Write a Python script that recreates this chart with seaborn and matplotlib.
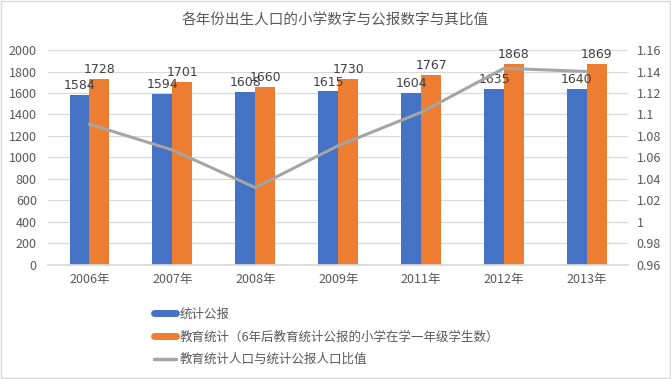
import matplotlib
matplotlib.use('Agg')
import matplotlib.pyplot as plt
import seaborn as sns
import pandas as pd
import numpy as np
from matplotlib.patches import Rectangle
from matplotlib.lines import Line2D

years = ['2006年', '2007年', '2008年', '2009年', '2011年', '2012年', '2013年']
gongbao = [1584, 1594, 1608, 1615, 1604, 1635, 1640]
jiaoyu = [1728, 1701, 1660, 1730, 1767, 1868, 1869]
ratio = [1.091, 1.067, 1.032, 1.071, 1.102, 1.143, 1.140]

name_a = '统计公报'
name_b = '教育统计（6年后教育统计公报的小学在学一年级学生数）'
name_c = '教育统计人口与统计公报人口比值'

sns.set_theme(style='white')
plt.rcParams['font.family'] = ['Noto Sans CJK SC', 'DejaVu Sans']
txt = '#595959'

df = pd.DataFrame({'year': years * 2,
                   'value': gongbao + jiaoyu,
                   'series': [name_a] * len(years) + [name_b] * len(years)})

fig = plt.figure(figsize=(6.71, 3.79), dpi=100)
ax = fig.add_axes([0.0715, 0.301, 0.865, 0.567])

sns.barplot(data=df, x='year', y='value', hue='series', ax=ax,
            palette=['#4472C4', '#ED7D31'], width=0.48, saturation=1,
            legend=False, linewidth=0, zorder=2)

for cont in ax.containers:
    ax.bar_label(cont, fontsize=9, color='#404040', padding=2,
                 family='DejaVu Sans')

ax.set_ylim(0, 2000)
ax.set_yticks(range(0, 2001, 200))
ax.set_xlim(-0.5, len(years) - 0.5)
ax.set_xlabel('')
ax.set_ylabel('')
ax.grid(axis='y', color='#D9D9D9', linewidth=0.9, zorder=0)
ax.set_axisbelow(True)
for s in ['top', 'left', 'right']:
    ax.spines[s].set_visible(False)
ax.spines['bottom'].set_color('#D9D9D9')
ax.tick_params(axis='both', length=0, labelsize=9, colors=txt, pad=6)
ax.tick_params(axis='y', pad=8)

ax2 = ax.twinx()
sns.lineplot(x=np.arange(len(years)), y=ratio, ax=ax2, color='#A5A5A5',
             linewidth=2.2, sort=False, zorder=3)
ax2.set_ylim(0.96, 1.16)
rticks = np.round(np.arange(0.96, 1.161, 0.02), 2)
ax2.set_yticks(rticks)
ax2.set_yticklabels([f'{v:g}' for v in rticks])
ax2.tick_params(axis='y', length=0, labelsize=9, colors=txt, pad=6)
for s in ['top', 'left', 'right', 'bottom']:
    ax2.spines[s].set_visible(False)
ax2.grid(False)

fig.suptitle('各年份出生人口的小学数字与公报数字与其比值', y=0.965,
             fontsize=10.5, color=txt)

handles = [Line2D([0], [0], color='#4472C4', lw=5),
           Line2D([0], [0], color='#ED7D31', lw=5),
           Line2D([0], [0], color='#A5A5A5', lw=2.5)]
fig.legend(handles, [name_a, name_b, name_c], loc='upper left',
           bbox_to_anchor=(0.22, 0.205), frameon=False, fontsize=9,
           labelcolor=txt, handlelength=1.8, handletextpad=0.25,
           labelspacing=0.78, borderpad=0)

fig.patches.append(Rectangle((0.001, 0.003), 0.997, 0.995,
                             transform=fig.transFigure, fill=False,
                             edgecolor='#D9D9D9', linewidth=1))

fig.savefig('out.png', dpi=100)
